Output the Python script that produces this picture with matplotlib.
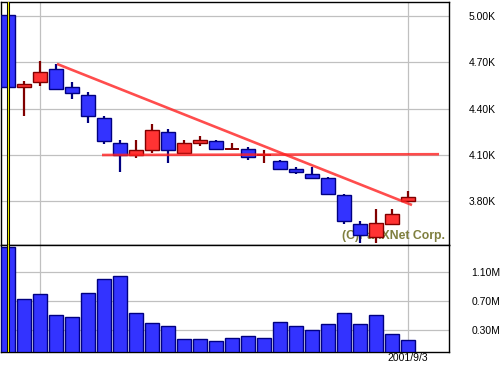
import matplotlib
matplotlib.use("Agg")
import matplotlib.pyplot as plt
import numpy as np

# ---- data ----
opens  = [5010, 4540, 4570, 4660, 4540, 4490, 4340, 4180, 4100, 4130, 4250, 4110, 4180,
          4190, 4140, 4140, 4100, 4060, 4010, 3980, 3950, 3840, 3650, 3570, 3650, 3800]
closes = [4540, 4560, 4640, 4530, 4500, 4350, 4190, 4100, 4130, 4260, 4130, 4180, 4200,
          4140, 4140, 4090, 4100, 4010, 3990, 3950, 3850, 3670, 3580, 3660, 3720, 3830]
highs  = [5010, 4580, 4710, 4690, 4570, 4510, 4350, 4200, 4200, 4300, 4270, 4200, 4220,
          4200, 4180, 4150, 4130, 4070, 4020, 4020, 3960, 3850, 3670, 3750, 3750, 3870]
lows   = [4540, 4350, 4550, 4520, 4460, 4310, 4170, 3990, 4080, 4110, 4050, 4110, 4160,
          4130, 4140, 4070, 4050, 4000, 3980, 3950, 3840, 3650, 3530, 3530, 3650, 3800]
volumes_m = [1.44, 0.73, 0.80, 0.51, 0.48, 0.81, 1.00, 1.04, 0.53, 0.40, 0.35, 0.18, 0.18,
             0.15, 0.19, 0.22, 0.19, 0.41, 0.35, 0.30, 0.38, 0.53, 0.38, 0.51, 0.24, 0.16]

# trend lines (candle index, price)
trend_down_x = [3.06, 25.25]
trend_down_y = [4690, 3776]
trend_flat_x = [5.875, 26.94]
trend_flat_y = [4100, 4105]

price_ticks = [3800, 4100, 4400, 4700, 5000]
price_tick_labels = ["3.80K", "4.10K", "4.40K", "4.70K", "5.00K"]
vol_ticks_m = [0.30, 0.70, 1.10]
vol_tick_labels = ["0.30M", "0.70M", "1.10M"]
date_tick_idx = [25]
date_tick_labels = ["2001/9/3"]
vgrid_idx = [2, 25]
cursor_idx = 0
watermark = "(C)PanXNet Corp."

# ---- styling ----
W, H = 502, 365
BLUE, NAVY = "#3333ff", "#000080"
RED, DRED = "#ff3333", "#800000"
GRID = "#c0c0c0"
FONT = "Liberation Sans"

fig = plt.figure(figsize=(W / 100, H / 100), dpi=100)
fig.patch.set_facecolor("white")

def frac(x0, y0, x1, y1):
    return [x0 / W, 1 - y1 / H, (x1 - x0) / W, (y1 - y0) / H]

axp = fig.add_axes(frac(1, 2, 449, 245))
axv = fig.add_axes(frac(1, 245, 449, 352))

xlim = (-0.4375, 27.5625)
idx = np.arange(len(opens))
bw = 0.875

for ax in (axp, axv):
    ax.set_xlim(*xlim)
    for s in ax.spines.values():
        s.set_linewidth(1.0)
        s.set_color("black")
    for gx in vgrid_idx:
        ax.axvline(gx, color=GRID, lw=0.9, zorder=0)
    ax.tick_params(axis="both", length=0, labelsize=7.5)
    ax.yaxis.tick_right()

# price panel
axp.set_ylim(3517, 5091)
for p in price_ticks:
    axp.axhline(p, color=GRID, lw=0.9, zorder=0)
axp.set_yticks(price_ticks)
axp.set_yticklabels(price_tick_labels, fontfamily=FONT)
axp.tick_params(axis="y", pad=14)
axp.set_xticks([])

axp.text(0.991, 0.024, watermark, transform=axp.transAxes, ha="right", va="baseline",
         fontsize=8.8, fontweight="bold", color="#7f7f3f", fontfamily=FONT, zorder=1)

for i in idx:
    o, c, h, l = opens[i], closes[i], highs[i], lows[i]
    if c > o:
        fc, ec = RED, DRED
    elif c < o:
        fc, ec = BLUE, NAVY
    else:
        fc, ec = None, DRED
    axp.vlines(i, l, h, color=ec, lw=1.6, zorder=2)
    if fc is None:
        axp.hlines(o, i - bw / 2, i + bw / 2, color=ec, lw=1.4, zorder=3)
    else:
        axp.bar(i, c - o, bottom=o, width=bw, color=fc, edgecolor=ec, linewidth=1.0, zorder=3)

axp.plot(trend_down_x, trend_down_y, color="#ff2020", lw=1.9, alpha=0.8, zorder=4,
         solid_capstyle="butt")
axp.plot(trend_flat_x, trend_flat_y, color="#ff2020", lw=1.9, alpha=0.8, zorder=4,
         solid_capstyle="butt")

# volume panel
vols = np.array(volumes_m)
axv.set_ylim(0, 1.467)
for v in vol_ticks_m:
    axv.axhline(v, color=GRID, lw=0.9, zorder=0)
axv.bar(idx, vols, width=bw, color=BLUE, edgecolor=NAVY, linewidth=1.0, zorder=3)
axv.set_yticks(vol_ticks_m)
axv.set_yticklabels(vol_tick_labels, fontfamily=FONT)
axv.tick_params(axis="y", pad=16)
axv.set_xticks(date_tick_idx)
axv.set_xticklabels(date_tick_labels, fontfamily=FONT)
axv.tick_params(axis="x", pad=1)

# cursor line
for ax in (axp, axv):
    ax.axvline(cursor_idx, color="black", lw=2.2, zorder=5)
    ax.axvline(cursor_idx, color="#e8e800", lw=0.8, zorder=6)

fig.savefig("out.png", dpi=100, facecolor="white")
